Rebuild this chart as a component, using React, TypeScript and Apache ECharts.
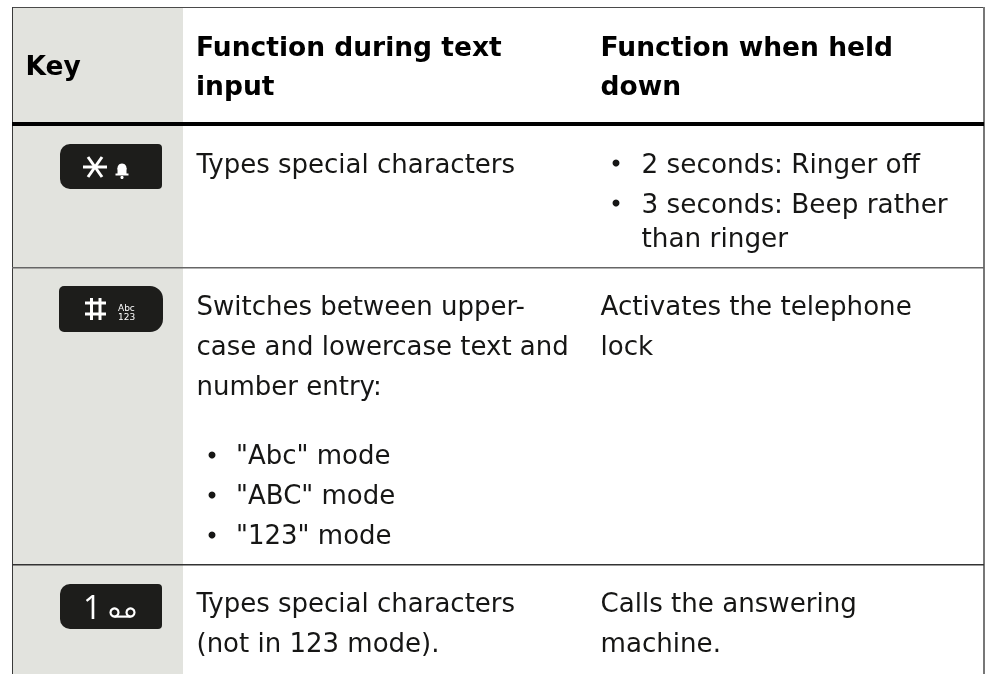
import React, { useEffect, useRef } from "react";
import * as echarts from "echarts";

const FONT = "'DejaVu Sans', Verdana, sans-serif";
const headers = [["Key"], ["Function during text", "input"], ["Function when held", "down"]];
const col2Lines: [string, number][] = [
  ["Types special characters", 164],
  ["Switches between upper-", 306],
  ["case and lowercase text and", 346],
  ["number entry:", 386],
  ["Types special characters", 603],
  ["(not in 123 mode).", 643],
];
const col2Bullets: [string, number][] = [
  ['"Abc" mode', 455],
  ['"ABC" mode', 495],
  ['"123" mode', 535],
];
const col3Lines: [string, number][] = [
  ["Activates the telephone", 306],
  ["lock", 346],
  ["Calls the answering", 603],
  ["machine.", 643],
];
const col3Bullets: [string, number, boolean][] = [
  ["2 seconds: Ringer off", 164, true],
  ["3 seconds: Beep rather", 204, true],
  ["than ringer", 238, false],
];

export default function App() {
  const ref = useRef<HTMLDivElement>(null);
  useEffect(() => {
    const chart = echarts.init(ref.current!, undefined, { renderer: "svg" });
    const txt = (text: string, x: number, y: number, size = 26, weight: any = "normal", fill = "#161615", font = FONT) => ({
      type: "text", x, y,
      style: { text, fontFamily: font, fontSize: size, fontWeight: weight, fill, textVerticalAlign: "middle", textAlign: "left" },
    });
    const rect = (x: number, y: number, width: number, height: number, fill: string, r: any = 0) => ({
      type: "rect", shape: { x, y, width, height, r }, style: { fill },
    });
    const hline = (y: number, h: number, fill: string) => rect(12, y, 972, h, fill);
    const dia = (x1: number, y1: number, x2: number, y2: number) => ({
      type: "line", shape: { x1, y1, x2, y2 }, style: { stroke: "#fff", lineWidth: 3 },
    });
    const els: any[] = [
      rect(12, 7, 972, 667, "#ffffff"),
      rect(13, 8, 170, 666, "#e2e3de"),
      rect(12, 7, 972, 1, "#4a4a4a"),
      rect(12, 7, 1, 667, "#3a3a3a"),
      rect(983, 7, 2, 667, "#777777"),
      hline(122, 4, "#000000"),
      hline(267, 1.5, "#666666"),
      hline(564, 1.5, "#333333"),
      txt(headers[0][0], 25.5, 65.5, 26.5, "bold", "#000"),
      txt(headers[1][0], 196, 46, 26.5, "bold", "#000"),
      txt(headers[1][1], 196, 85, 26.5, "bold", "#000"),
      txt(headers[2][0], 600.5, 46, 26.5, "bold", "#000"),
      txt(headers[2][1], 600.5, 85, 26.5, "bold", "#000"),
      // keys
      rect(60, 144, 102, 45, "#1d1d1b", [10, 4, 4, 10]),
      rect(59, 286, 104, 46, "#1d1d1b", [5, 13, 13, 5]),
      rect(60, 584, 102, 45, "#1d1d1b", [10, 4, 4, 10]),
      // asterisk
      rect(83, 165.5, 24, 3, "#fff"),
      dia(88, 157, 102, 177),
      dia(102, 157, 88, 177),
      // hash
      rect(85, 301.5, 21, 3, "#fff"),
      rect(85, 312.5, 21, 3, "#fff"),
      rect(90, 298, 3, 22, "#fff"),
      rect(98.5, 298, 3, 22, "#fff"),
      txt("Abc", 118, 307.5, 9, "normal", "#fff"),
      txt("123", 118, 317, 9, "normal", "#fff"),
      txt("1", 83, 606, 32, "normal", "#fff", "'Open Sans', sans-serif"),
    ];
    // small bell
    els.push({ type: "circle", shape: { cx: 122, cy: 168, r: 4.5 }, style: { fill: "#fff" } });
    els.push(rect(117.5, 168, 9, 6, "#fff"));
    els.push(rect(115.5, 173.5, 13, 2, "#fff"));
    els.push({ type: "circle", shape: { cx: 122, cy: 177.5, r: 1.6 }, style: { fill: "#fff" } });
    // voicemail
    els.push({ type: "circle", shape: { cx: 114.5, cy: 612.5, r: 4 }, style: { fill: "none", stroke: "#fff", lineWidth: 2.2 } });
    els.push({ type: "circle", shape: { cx: 130.5, cy: 612.5, r: 4 }, style: { fill: "none", stroke: "#fff", lineWidth: 2.2 } });
    els.push(rect(114.5, 615.5, 16, 2.2, "#fff"));
    col2Lines.forEach(([s, y]) => els.push(txt(s, 196.5, y)));
    col2Bullets.forEach(([s, y]) => {
      els.push({ type: "circle", shape: { cx: 212, cy: y, r: 3.5 }, style: { fill: "#161615" } });
      els.push(txt(s, 236, y));
    });
    col3Lines.forEach(([s, y]) => els.push(txt(s, 600.5, y, 26.1)));
    col3Bullets.forEach(([s, y, b]) => {
      if (b) els.push({ type: "circle", shape: { cx: 616, cy: y - 1, r: 3.5 }, style: { fill: "#161615" } });
      els.push(txt(s, 641.5, y, 26.3));
    });
    chart.setOption({ animation: false, graphic: { elements: els } });
    return () => chart.dispose();
  }, []);
  return <div ref={ref} style={{ position: "fixed", left: 0, top: 0, width: 986, height: 674 }} />;
}
